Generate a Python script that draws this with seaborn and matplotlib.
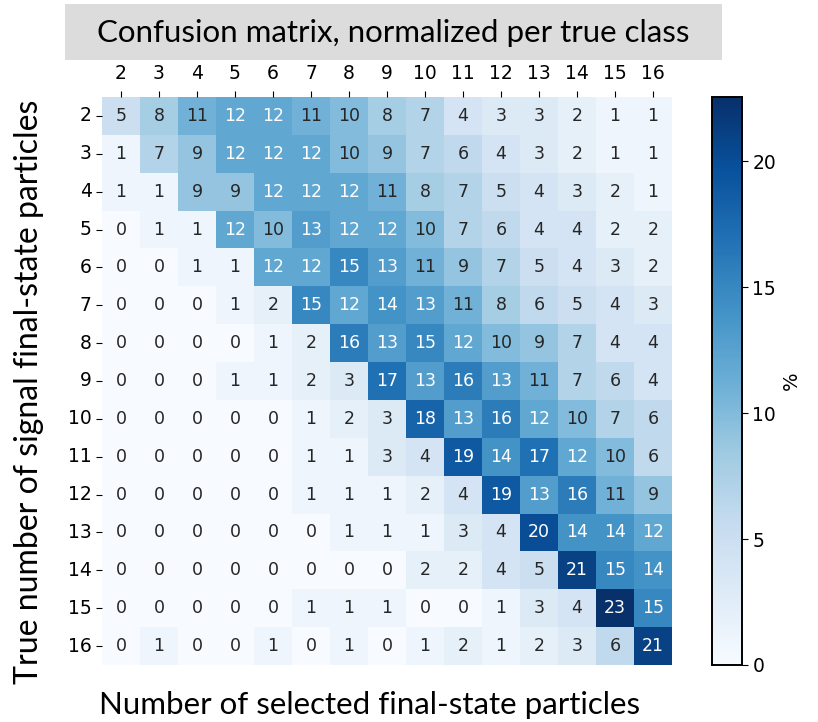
import numpy as np
import pandas as pd
import seaborn as sns
import matplotlib
matplotlib.use("Agg")
import matplotlib.pyplot as plt
from matplotlib.patches import Rectangle

true_classes = [2, 3, 4, 5, 6, 7, 8, 9, 10, 11, 12, 13, 14, 15, 16]
selected_classes = [2, 3, 4, 5, 6, 7, 8, 9, 10, 11, 12, 13, 14, 15, 16]

row_2 = [5, 8, 11, 12, 12, 11, 10, 8, 7, 4, 3, 3, 2, 1, 1]
row_3 = [1, 7, 9, 12, 12, 12, 10, 9, 7, 6, 4, 3, 2, 1, 1]
row_4 = [1, 1, 9, 9, 12, 12, 12, 11, 8, 7, 5, 4, 3, 2, 1]
row_5 = [0, 1, 1, 12, 10, 13, 12, 12, 10, 7, 6, 4, 4, 2, 2]
row_6 = [0, 0, 1, 1, 12, 12, 15, 13, 11, 9, 7, 5, 4, 3, 2]
row_7 = [0, 0, 0, 1, 2, 15, 12, 14, 13, 11, 8, 6, 5, 4, 3]
row_8 = [0, 0, 0, 0, 1, 2, 16, 13, 15, 12, 10, 9, 7, 4, 4]
row_9 = [0, 0, 0, 1, 1, 2, 3, 17, 13, 16, 13, 11, 7, 6, 4]
row_10 = [0, 0, 0, 0, 0, 1, 2, 3, 18, 13, 16, 12, 10, 7, 6]
row_11 = [0, 0, 0, 0, 0, 1, 1, 3, 4, 19, 14, 17, 12, 10, 6]
row_12 = [0, 0, 0, 0, 0, 1, 1, 1, 2, 4, 19, 13, 16, 11, 9]
row_13 = [0, 0, 0, 0, 0, 0, 1, 1, 1, 3, 4, 20, 14, 14, 12]
row_14 = [0, 0, 0, 0, 0, 0, 0, 0, 2, 2, 4, 5, 21, 15, 14]
row_15 = [0, 0, 0, 0, 0, 1, 1, 1, 0, 0, 1, 3, 4, 23, 15]
row_16 = [0, 1, 0, 0, 1, 0, 1, 0, 1, 2, 1, 2, 3, 6, 21]

rows = [row_2, row_3, row_4, row_5, row_6, row_7, row_8, row_9, row_10,
        row_11, row_12, row_13, row_14, row_15, row_16]
df = pd.DataFrame(rows, index=true_classes, columns=selected_classes)

W, H = 818, 722
fig = plt.figure(figsize=(W / 100, H / 100), dpi=100)

def fr(x0, y0, x1, y1):
    return [x0 / W, 1 - y1 / H, (x1 - x0) / W, (y1 - y0) / H]

ax = fig.add_axes(fr(102, 97, 672, 665))
cax = fig.add_axes(fr(712, 97, 742, 665))

sns.heatmap(df, ax=ax, cbar_ax=cax, cmap="Blues", vmin=0, vmax=22.55,
            annot=True, fmt="d", annot_kws={"size": 12.5})

# text colours as in reference: values >= 12 white
for t in ax.texts:
    v = int(t.get_text())
    t.set_color("white" if v >= 12 else "#262626")

ax.xaxis.tick_top()
ax.tick_params(axis="x", labelsize=13.5, length=4, rotation=0, pad=6)
ax.tick_params(axis="y", labelsize=13.5, length=4, rotation=0)
ax.set_xlabel("")
ax.set_ylabel("")

cax.tick_params(labelsize=13.5, length=4)
cax.set_yticks([0, 5, 10, 15, 20])
for sp in cax.spines.values():
    sp.set_visible(True)
    sp.set_linewidth(1.2)
    sp.set_color("black")
cb = ax.collections[0].colorbar
cb.outline.set_linewidth(1.2)
cb.outline.set_edgecolor("black")
cb.set_label("%", fontsize=14, labelpad=4)

tfont = ["Lato", "DejaVu Sans"]
fig.patches.append(Rectangle((65 / W, 1 - 60 / H), (722 - 65) / W, 56 / H,
                             transform=fig.transFigure, facecolor="#dcdcdc",
                             edgecolor="none", zorder=0))
fig.text(393 / W, 1 - 33 / H, "Confusion matrix, normalized per true class",
         ha="center", va="center", fontsize=22.5, family=tfont)
fig.text(370 / W, 1 - 705 / H, "Number of selected final-state particles",
         ha="center", va="center", fontsize=22.5, family=tfont)
fig.text(29 / W, 1 - 392 / H, "True number of signal final-state particles",
         ha="center", va="center", fontsize=23, rotation=90, family=tfont)

fig.savefig("out.png", dpi=100)
